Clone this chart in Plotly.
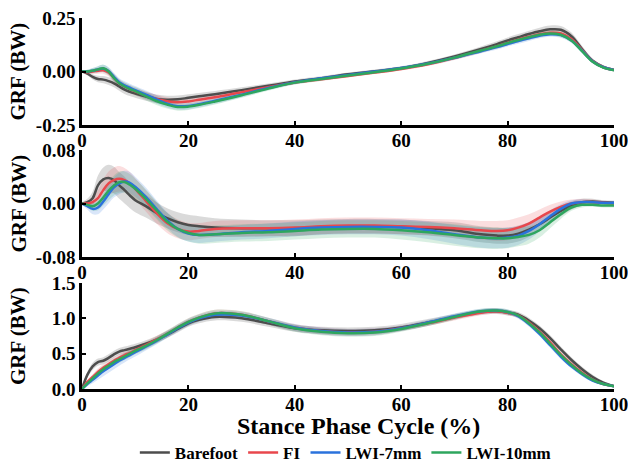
import plotly.graph_objects as go
from plotly.subplots import make_subplots

# Stance phase (%) sample points
X = [0, 1, 2, 3, 4, 5, 6, 7, 8, 9, 10, 12, 14, 16, 18, 20, 22, 25, 30, 35, 40,
     45, 50, 55, 60, 65, 70, 75, 78, 80, 82, 84, 86, 88, 90, 92, 94, 96, 98, 100]

SERIES = ["Barefoot", "FI", "LWI-7mm", "LWI-10mm"]
COLORS = ["#4d4d4d", "#e8474c", "#2a72dc", "#2ea65e"]
BANDS = ["rgba(70,70,70,0.20)", "rgba(232,71,76,0.18)",
         "rgba(42,114,220,0.18)", "rgba(46,166,94,0.18)"]

# Panel 1: anterior-posterior GRF (BW), mean and SD
AP_BAREFOOT = [0, -0.01, -0.025, -0.035, -0.038, -0.045, -0.055, -0.07, -0.085, -0.095, -0.103,
               -0.117, -0.128, -0.132, -0.13, -0.123, -0.116,
               -0.106, -0.087, -0.067, -0.047, -0.031, -0.013, 0.001, 0.016, 0.04, 0.07, 0.105,
               0.128, 0.145, 0.16, 0.175, 0.188, 0.197, 0.195, 0.165, 0.105, 0.05, 0.022, 0.008]
AP_FI = [0, -0.003, 0.0, 0.004, 0.006, -0.005, -0.03, -0.055, -0.07, -0.082, -0.093,
         -0.112, -0.128, -0.139, -0.144, -0.14, -0.132,
         -0.12, -0.097, -0.073, -0.051, -0.036, -0.021, -0.005, 0.012, 0.034, 0.063, 0.097,
         0.118, 0.134, 0.149, 0.162, 0.174, 0.181, 0.178, 0.152, 0.1, 0.048, 0.02, 0.007]
AP_LWI7 = [0, 0.0, 0.004, 0.01, 0.014, 0.002, -0.025, -0.05, -0.065, -0.076, -0.087,
           -0.108, -0.13, -0.15, -0.162, -0.161, -0.153,
           -0.137, -0.108, -0.077, -0.05, -0.032, -0.016, 0.0, 0.016, 0.037, 0.064, 0.095,
           0.114, 0.128, 0.142, 0.155, 0.167, 0.174, 0.17, 0.145, 0.097, 0.047, 0.02, 0.007]
AP_LWI10 = [0, 0.0, 0.004, 0.01, 0.015, 0.0, -0.03, -0.055, -0.07, -0.082, -0.092,
            -0.115, -0.138, -0.155, -0.166, -0.164, -0.156,
            -0.14, -0.111, -0.08, -0.052, -0.035, -0.019, -0.003, 0.014, 0.036, 0.065, 0.098,
            0.118, 0.133, 0.147, 0.16, 0.172, 0.178, 0.172, 0.145, 0.095, 0.045, 0.018, 0.006]
AP_SD_BAREFOOT = [0.004, 0.008, 0.012, 0.015, 0.017, 0.018, 0.019, 0.02, 0.02, 0.02, 0.02,
                  0.02, 0.02, 0.019, 0.018, 0.017, 0.016,
                  0.015, 0.013, 0.011, 0.01, 0.009, 0.008, 0.008, 0.008, 0.009, 0.01, 0.012,
                  0.013, 0.014, 0.015, 0.016, 0.017, 0.018, 0.018, 0.017, 0.014, 0.01, 0.007, 0.005]
AP_SD_FI = [0.004, 0.008, 0.012, 0.014, 0.016, 0.017, 0.018, 0.018, 0.018, 0.018, 0.018,
            0.018, 0.018, 0.018, 0.017, 0.016, 0.015,
            0.014, 0.012, 0.01, 0.009, 0.008, 0.007, 0.007, 0.007, 0.008, 0.009, 0.01,
            0.011, 0.011, 0.012, 0.012, 0.012, 0.012, 0.012, 0.011, 0.01, 0.008, 0.006, 0.004]
AP_SD_LWI7 = [0.004, 0.008, 0.012, 0.015, 0.017, 0.018, 0.019, 0.019, 0.019, 0.019, 0.019,
              0.019, 0.019, 0.018, 0.017, 0.016, 0.015,
              0.014, 0.012, 0.01, 0.009, 0.008, 0.007, 0.007, 0.007, 0.008, 0.009, 0.01,
              0.011, 0.011, 0.012, 0.012, 0.012, 0.012, 0.012, 0.011, 0.01, 0.008, 0.006, 0.004]
AP_SD_LWI10 = [0.004, 0.008, 0.012, 0.015, 0.017, 0.018, 0.019, 0.019, 0.019, 0.019, 0.019,
               0.019, 0.019, 0.018, 0.017, 0.016, 0.015,
               0.014, 0.012, 0.01, 0.009, 0.008, 0.007, 0.007, 0.007, 0.008, 0.009, 0.01,
               0.011, 0.011, 0.012, 0.012, 0.012, 0.012, 0.012, 0.011, 0.01, 0.008, 0.006, 0.004]

# Panel 2: medial-lateral GRF (BW), mean and SD
ML_BAREFOOT = [0, 0.002, 0.008, 0.027, 0.036, 0.038, 0.035, 0.027, 0.02, 0.012, 0.005,
               -0.004, -0.014, -0.022, -0.028, -0.032, -0.034,
               -0.036, -0.037, -0.037, -0.037, -0.035, -0.034, -0.034, -0.035, -0.037, -0.04, -0.046,
               -0.048, -0.048, -0.045, -0.039, -0.031, -0.021, -0.011, -0.003, 0.002, 0.003, 0.002, 0.001]
ML_FI = [0, 0.0, 0.002, 0.008, 0.02, 0.03, 0.035, 0.037, 0.035, 0.03, 0.022,
         0.004, -0.014, -0.029, -0.038, -0.042, -0.041,
         -0.038, -0.037, -0.037, -0.036, -0.034, -0.033, -0.033, -0.034, -0.035, -0.037, -0.04,
         -0.041, -0.04, -0.036, -0.03, -0.021, -0.012, -0.005, 0.0, 0.002, 0.002, 0.001, 0.0]
ML_LWI7 = [0, -0.004, -0.008, -0.006, 0.003, 0.014, 0.024, 0.03, 0.033, 0.031, 0.025,
           0.01, -0.008, -0.025, -0.038, -0.045, -0.047,
           -0.046, -0.043, -0.041, -0.038, -0.036, -0.035, -0.035, -0.036, -0.04, -0.046, -0.051,
           -0.052, -0.051, -0.048, -0.041, -0.031, -0.019, -0.008, 0.0, 0.002, 0.002, 0.001, 0.001]
ML_LWI10 = [0, -0.002, -0.004, 0.0, 0.009, 0.019, 0.027, 0.032, 0.032, 0.028, 0.022,
            0.007, -0.01, -0.027, -0.038, -0.044, -0.047,
            -0.046, -0.044, -0.043, -0.041, -0.039, -0.038, -0.038, -0.04, -0.043, -0.047, -0.051,
            -0.052, -0.052, -0.05, -0.047, -0.04, -0.028, -0.016, -0.006, -0.002, -0.002, -0.003, -0.003]
ML_SD_BAREFOOT = [0.002, 0.005, 0.01, 0.015, 0.018, 0.02, 0.02, 0.02, 0.02, 0.019, 0.018,
                  0.017, 0.016, 0.015, 0.015, 0.015, 0.015,
                  0.014, 0.013, 0.012, 0.012, 0.011, 0.011, 0.011, 0.011, 0.011, 0.012, 0.012,
                  0.012, 0.012, 0.012, 0.011, 0.01, 0.009, 0.008, 0.006, 0.005, 0.004, 0.003, 0.003]
ML_SD_FI = [0.002, 0.004, 0.008, 0.012, 0.016, 0.018, 0.019, 0.019, 0.018, 0.017, 0.016,
            0.016, 0.016, 0.015, 0.014, 0.013, 0.012,
            0.012, 0.012, 0.012, 0.012, 0.012, 0.012, 0.012, 0.012, 0.012, 0.013, 0.014,
            0.015, 0.015, 0.015, 0.014, 0.012, 0.01, 0.008, 0.006, 0.005, 0.004, 0.003, 0.003]
ML_SD_LWI7 = [0.002, 0.005, 0.008, 0.01, 0.012, 0.014, 0.015, 0.016, 0.016, 0.016, 0.015,
              0.014, 0.013, 0.012, 0.012, 0.012, 0.012,
              0.011, 0.011, 0.011, 0.011, 0.011, 0.011, 0.011, 0.012, 0.013, 0.014, 0.015,
              0.015, 0.015, 0.014, 0.013, 0.011, 0.009, 0.007, 0.005, 0.004, 0.003, 0.003, 0.003]
ML_SD_LWI10 = [0.002, 0.004, 0.007, 0.01, 0.012, 0.014, 0.015, 0.016, 0.016, 0.016, 0.015,
               0.014, 0.013, 0.013, 0.013, 0.013, 0.013,
               0.013, 0.013, 0.013, 0.013, 0.013, 0.013, 0.013, 0.014, 0.015, 0.016, 0.016,
               0.016, 0.015, 0.014, 0.013, 0.011, 0.009, 0.007, 0.005, 0.004, 0.003, 0.003, 0.003]

# Panel 3: vertical GRF (BW), mean and SD
V_BAREFOOT = [0.0, 0.2, 0.32, 0.38, 0.4, 0.44, 0.49, 0.53, 0.55, 0.57, 0.59,
              0.64, 0.7, 0.77, 0.85, 0.93, 0.98,
              1.02, 1.0, 0.93, 0.86, 0.83, 0.82, 0.83, 0.87, 0.94, 1.02, 1.09,
              1.1, 1.08, 1.05, 0.97, 0.86, 0.72, 0.56, 0.41, 0.28, 0.17, 0.09, 0.04]
V_FI = [0.0, 0.1, 0.17, 0.24, 0.3, 0.35, 0.4, 0.44, 0.48, 0.51, 0.55,
        0.62, 0.7, 0.78, 0.87, 0.95, 1.01,
        1.07, 1.05, 0.96, 0.87, 0.82, 0.8, 0.81, 0.86, 0.93, 1.01, 1.08,
        1.1, 1.08, 1.04, 0.94, 0.81, 0.66, 0.49, 0.35, 0.23, 0.13, 0.07, 0.04]
V_LWI7 = [0.0, 0.07, 0.13, 0.19, 0.25, 0.3, 0.35, 0.4, 0.44, 0.48, 0.52,
          0.6, 0.68, 0.77, 0.86, 0.94, 1.0,
          1.05, 1.04, 0.96, 0.87, 0.82, 0.8, 0.81, 0.86, 0.94, 1.03, 1.1,
          1.11, 1.09, 1.03, 0.92, 0.78, 0.62, 0.46, 0.32, 0.21, 0.12, 0.07, 0.04]
V_LWI10 = [0.0, 0.08, 0.15, 0.22, 0.28, 0.33, 0.38, 0.42, 0.46, 0.5, 0.54,
           0.61, 0.69, 0.78, 0.87, 0.95, 1.01,
           1.07, 1.05, 0.96, 0.86, 0.81, 0.79, 0.8, 0.85, 0.93, 1.02, 1.1,
           1.11, 1.09, 1.04, 0.93, 0.8, 0.64, 0.48, 0.34, 0.22, 0.13, 0.07, 0.04]
V_SD_BAREFOOT = [0.01, 0.04, 0.05, 0.05, 0.05, 0.05, 0.05, 0.05, 0.05, 0.05, 0.05,
                 0.05, 0.05, 0.05, 0.05, 0.05, 0.05,
                 0.05, 0.05, 0.05, 0.05, 0.05, 0.05, 0.05, 0.05, 0.05, 0.04, 0.04,
                 0.04, 0.04, 0.04, 0.04, 0.04, 0.04, 0.04, 0.04, 0.035, 0.03, 0.02, 0.015]
V_SD_FI = [0.01, 0.03, 0.04, 0.05, 0.05, 0.05, 0.05, 0.05, 0.05, 0.05, 0.05,
           0.05, 0.05, 0.05, 0.05, 0.05, 0.05,
           0.05, 0.05, 0.05, 0.05, 0.05, 0.05, 0.05, 0.04, 0.04, 0.04, 0.035,
           0.035, 0.035, 0.035, 0.035, 0.035, 0.035, 0.035, 0.03, 0.03, 0.025, 0.02, 0.015]
V_SD_LWI7 = [0.01, 0.03, 0.05, 0.06, 0.07, 0.07, 0.07, 0.07, 0.065, 0.06, 0.06,
             0.055, 0.05, 0.05, 0.05, 0.05, 0.05,
             0.05, 0.05, 0.05, 0.05, 0.05, 0.05, 0.05, 0.04, 0.04, 0.04, 0.035,
             0.035, 0.035, 0.035, 0.035, 0.035, 0.035, 0.035, 0.03, 0.03, 0.025, 0.02, 0.015]
V_SD_LWI10 = [0.01, 0.03, 0.04, 0.05, 0.05, 0.05, 0.05, 0.05, 0.05, 0.05, 0.05,
              0.05, 0.05, 0.05, 0.05, 0.05, 0.05,
              0.05, 0.05, 0.05, 0.05, 0.05, 0.05, 0.05, 0.04, 0.04, 0.04, 0.035,
              0.035, 0.035, 0.035, 0.035, 0.035, 0.035, 0.035, 0.03, 0.03, 0.025, 0.02, 0.015]

PANELS = [
    ([AP_BAREFOOT, AP_FI, AP_LWI7, AP_LWI10],
     [AP_SD_BAREFOOT, AP_SD_FI, AP_SD_LWI7, AP_SD_LWI10]),
    ([ML_BAREFOOT, ML_FI, ML_LWI7, ML_LWI10],
     [ML_SD_BAREFOOT, ML_SD_FI, ML_SD_LWI7, ML_SD_LWI10]),
    ([V_BAREFOOT, V_FI, V_LWI7, V_LWI10],
     [V_SD_BAREFOOT, V_SD_FI, V_SD_LWI7, V_SD_LWI10]),
]

Y_RANGES = [[-0.25, 0.25], [-0.08, 0.08], [0.0, 1.5]]
Y_TICKVALS = [[-0.25, 0.0, 0.25], [-0.08, 0.0, 0.08], [0.0, 0.5, 1.0, 1.5]]
Y_TICKTEXT = [["-0.25", "0.00", "0.25"], ["-0.08", "0.00", "0.08"],
              ["0.0", "0.5", "1.0", "1.5"]]
X_TICKS = [0, 20, 40, 60, 80, 100]

W, H = 628, 464
DOMAINS = [[1 - 125 / H, 1 - 18 / H], [1 - 257 / H, 1 - 150 / H], [1 - 389 / H, 1 - 283 / H]]

fig = make_subplots(rows=3, cols=1)

for r, (means, sds) in enumerate(PANELS, start=1):
    # shaded ±SD bands first
    for name, mean, sd, band in zip(SERIES, means, sds, BANDS):
        upper = [m + s for m, s in zip(mean, sd)]
        lower = [m - s for m, s in zip(mean, sd)]
        fig.add_trace(go.Scatter(x=X, y=upper, mode="lines", line=dict(width=0, shape="spline"),
                                 showlegend=False, hoverinfo="skip"), row=r, col=1)
        fig.add_trace(go.Scatter(x=X, y=lower, mode="lines", line=dict(width=0, shape="spline"),
                                 fill="tonexty", fillcolor=band,
                                 showlegend=False, hoverinfo="skip"), row=r, col=1)
    # mean curves on top
    for name, mean, color in zip(SERIES, means, COLORS):
        fig.add_trace(go.Scatter(x=X, y=mean, mode="lines", name=name,
                                 line=dict(color=color, width=2.5, shape="spline"),
                                 legendgroup=name, showlegend=(r == 1)), row=r, col=1)

FONT = "Liberation Serif"
TICKFONT = dict(family=FONT, size=19, color="black", weight="bold")
for r in range(1, 4):
    fig.update_xaxes(range=[0, 100], tickvals=X_TICKS, showgrid=False, zeroline=False,
                     showline=True, linecolor="black", linewidth=2.5,
                     ticks="inside", ticklen=4, tickwidth=2, tickcolor="black",
                     tickfont=TICKFONT, automargin=False, ticklabeloverflow="allow",
                     ticklabelstandoff=-4, row=r, col=1)
    fig.update_yaxes(range=Y_RANGES[r - 1], tickvals=Y_TICKVALS[r - 1],
                     ticktext=Y_TICKTEXT[r - 1], showgrid=False, zeroline=False,
                     showline=True, linecolor="black", linewidth=2.5,
                     ticks="inside", ticklen=4, tickwidth=2, tickcolor="black",
                     tickfont=TICKFONT, automargin=False, ticklabeloverflow="allow",
                     domain=DOMAINS[r - 1], row=r, col=1)

annotations = []
for d in DOMAINS:
    annotations.append(dict(text="GRF (BW)", xref="paper", yref="paper",
                            x=(18 - 82) / 532, y=(d[0] + d[1]) / 2, textangle=-90,
                            showarrow=False, xanchor="center", yanchor="middle",
                            font=dict(family=FONT, size=21, color="black", weight="bold")))
annotations.append(dict(text="Stance Phase Cycle (%)", xref="paper", yref="paper",
                        x=0.52, y=(H - 426) / H, showarrow=False,
                        xanchor="center", yanchor="middle",
                        font=dict(family=FONT, size=24, color="black", weight="bold")))

fig.update_layout(
    width=W, height=H,
    margin=dict(l=82, r=14, t=0, b=0, autoexpand=False),
    paper_bgcolor="white", plot_bgcolor="white",
    font=dict(family=FONT, color="black", weight="bold"),
    annotations=annotations,
    legend=dict(orientation="h", x=0.495, y=(H - 453) / H, xanchor="center", yanchor="middle",
                font=dict(family=FONT, size=17, color="black", weight="bold"),
                itemwidth=30, tracegroupgap=0, bgcolor="rgba(0,0,0,0)"),
)

fig.write_html("out.html")
